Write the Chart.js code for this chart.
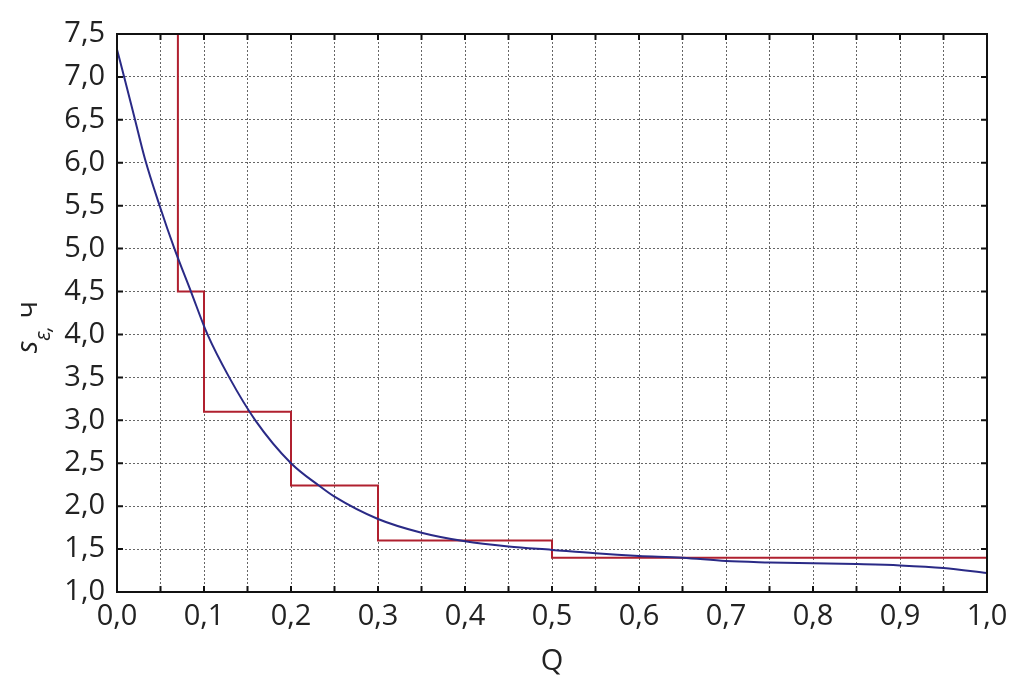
<!DOCTYPE html>
<html>
<head>
<meta charset="utf-8">
<script src="https://cdn.jsdelivr.net/npm/chart.js@4/dist/chart.umd.min.js"></script>
<style>
  html, body { margin: 0; padding: 0; background: #fff; }
  #wrap { width: 1029px; height: 694px; }
</style>
</head>
<body>
<div id="wrap"><canvas id="chart" width="1029" height="694"></canvas></div>
<script>
// curve s_e(Q)
const curveQ = [0, 0.01, 0.02, 0.032, 0.049, 0.066, 0.085, 0.104, 0.129, 0.159, 0.2, 0.232, 0.25, 0.3, 0.35, 0.4, 0.45, 0.5, 0.55, 0.6, 0.65, 0.7, 0.75, 0.8, 0.85, 0.9, 0.95, 1.0]
const curveS = [7.32, 6.93, 6.53, 6.05, 5.5, 5.0, 4.5, 4.0, 3.5, 3.0, 2.5, 2.24, 2.11, 1.85, 1.69, 1.59, 1.53, 1.49, 1.45, 1.42, 1.4, 1.36, 1.345, 1.335, 1.325, 1.31, 1.28, 1.22]

// step function
const stepQ = [0.07, 0.1, 0.2, 0.3, 0.5, 1.0]
const stepS = [7.5, 4.5, 3.1, 2.24, 1.6, 1.4]

const xMin = 0, xMax = 1, xStep = 0.05
const yMin = 1, yMax = 7.5, yStep = 0.5

const FONT = '"Open Sans", "Noto Sans", sans-serif'
const fmt = v => v.toFixed(1).replace('.', ',')

const frame = {
    id: 'frame',
    afterDatasetsDraw(chart) {
        const {ctx, chartArea: a, scales} = chart
        ctx.save()
        ctx.strokeStyle = '#111'
        ctx.lineWidth = 2
        ctx.beginPath()
        // inward ticks
        scales.x.ticks.forEach(t => {
            const px = scales.x.getPixelForValue(t.value)
            ctx.moveTo(px, a.bottom); ctx.lineTo(px, a.bottom - 6)
            ctx.moveTo(px, a.top); ctx.lineTo(px, a.top + 6)
        })
        scales.y.ticks.forEach(t => {
            const py = scales.y.getPixelForValue(t.value)
            ctx.moveTo(a.left, py); ctx.lineTo(a.left + 6, py)
            ctx.moveTo(a.right, py); ctx.lineTo(a.right - 6, py)
        })
        ctx.stroke()
        ctx.strokeRect(a.left, a.top, a.right - a.left, a.bottom - a.top)
        ctx.restore()

        // y axis title: s_ε, ч
        ctx.save()
        ctx.translate(37, 327)
        ctx.rotate(-Math.PI / 2)
        ctx.fillStyle = '#222'
        ctx.textBaseline = 'alphabetic'
        ctx.font = 'italic 29px ' + FONT
        const w1 = ctx.measureText('s').width
        ctx.font = 'italic 21px ' + FONT
        const w2 = ctx.measureText('ε,').width
        ctx.font = '29px ' + FONT
        const w3 = ctx.measureText(' ч').width
        let x = -(w1 + w2 + w3) / 2
        ctx.font = 'italic 29px ' + FONT
        ctx.fillText('s', x, 0)
        x += w1
        ctx.font = 'italic 21px ' + FONT
        ctx.fillText('ε,', x, 13)
        x += w2
        ctx.font = '29px ' + FONT
        ctx.fillText(' ч', x, 0)
        ctx.restore()
    }
}

const ctx = document.getElementById('chart')
new Chart(ctx, {
    type: 'line',
    data: {
        datasets: [{
            data: curveQ.map((q, i) => ({x: q, y: curveS[i]})),
            borderColor: '#2a2a86',
            borderWidth: 2,
            pointRadius: 0,
            cubicInterpolationMode: 'monotone'
        }, {
            data: stepQ.map((q, i) => ({x: q, y: stepS[i]})),
            borderColor: '#b0202f',
            borderWidth: 2,
            pointRadius: 0,
            stepped: 'after'
        }]
    },
    options: {
        responsive: false,
        animation: false,
        layout: { padding: { top: 34, right: 42, left: 0, bottom: 0 } },
        plugins: { legend: { display: false }, tooltip: { enabled: false } },
        scales: {
            x: {
                type: 'linear', min: xMin, max: xMax,
                afterFit: s => { s.height = 102 },
                ticks: {
                    stepSize: xStep,
                    autoSkip: false,
                    maxRotation: 0,
                    padding: 7,
                    color: '#222',
                    font: { family: FONT, size: 29 },
                    callback: v => Math.round(v * 100) % 10 === 0 ? fmt(v) : ''
                },
                grid: { color: '#666', lineWidth: 1, drawTicks: false },
                border: { display: false, dash: [2, 2] },
                title: {
                    display: true, text: 'Q', color: '#222',
                    font: { family: FONT, size: 29 },
                    padding: { top: 0, bottom: 15 }
                }
            },
            y: {
                type: 'linear', min: yMin, max: yMax,
                afterFit: s => { s.width = 117 },
                ticks: {
                    stepSize: yStep,
                    padding: 12,
                    color: '#222',
                    font: { family: FONT, size: 29 },
                    callback: v => fmt(v)
                },
                grid: { color: '#666', lineWidth: 1, drawTicks: false },
                border: { display: false, dash: [2, 2] }
            }
        }
    },
    plugins: [frame]
})
</script>
</body>
</html>
